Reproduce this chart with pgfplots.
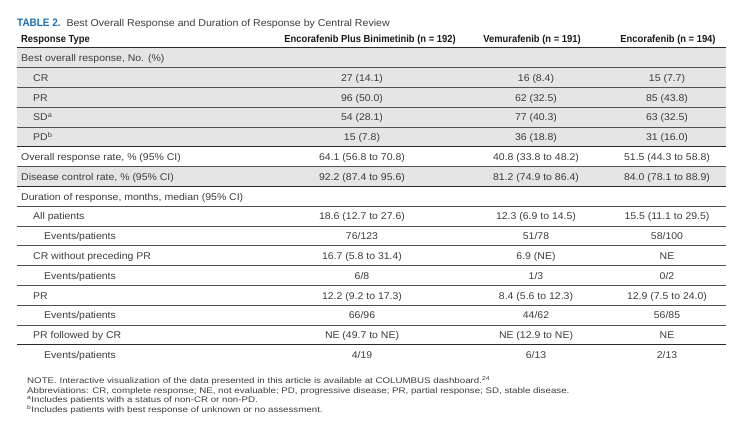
\documentclass[border=0pt]{standalone}
\usepackage{pgfplots}
\usepackage{pgfplotstable}
\pgfplotsset{compat=1.18}
\usepackage{fontspec}
\setmainfont{Liberation Sans}
\newfontfamily\hdfont{Liberation Sans}[FakeStretch=0.92]
\newfontfamily\bodyfont{Liberation Sans}[FakeStretch=1.07]
\newfontfamily\fnfont{Liberation Sans}[FakeStretch=1.2]
\definecolor{rowgray}{RGB}{229,229,229}
\definecolor{txt}{RGB}{60,60,60}
\definecolor{hdtxt}{RGB}{25,25,25}
\definecolor{tblue}{RGB}{30,110,178}
\definecolor{thinline}{RGB}{80,80,80}
\definecolor{thickline}{RGB}{40,40,40}

\pgfplotstableread[col sep=semicolon]{
yc;label;ind;c1;c2;c3
58.0;Best overall response, No. (\%);21;{};{};{}
77.8;CR;33;27 (14.1);16 (8.4);15 (7.7)
97.6;PR;33;96 (50.0);62 (32.5);85 (43.8)
117.4;SD\textsuperscript{a};33;54 (28.1);77 (40.3);63 (32.5)
137.2;PD\textsuperscript{b};33;15 (7.8);36 (18.8);31 (16.0)
157.0;Overall response rate, \% (95\% CI);21;64.1 (56.8 to 70.8);40.8 (33.8 to 48.2);51.5 (44.3 to 58.8)
176.8;Disease control rate, \% (95\% CI);21;92.2 (87.4 to 95.6);81.2 (74.9 to 86.4);84.0 (78.1 to 88.9)
196.6;Duration of response, months, median (95\% CI);21;{};{};{}
216.4;All patients;33;18.6 (12.7 to 27.6);12.3 (6.9 to 14.5);15.5 (11.1 to 29.5)
236.2;Events/patients;44;76/123;51/78;58/100
256.0;CR without preceding PR;33;16.7 (5.8 to 31.4);6.9 (NE);NE
275.8;Events/patients;44;6/8;1/3;0/2
295.6;PR;33;12.2 (9.2 to 17.3);8.4 (5.6 to 12.3);12.9 (7.5 to 24.0)
315.4;Events/patients;44;66/96;44/62;56/85
335.2;PR followed by CR;33;NE (49.7 to NE);NE (12.9 to NE);NE
355.0;Events/patients;44;4/19;6/13;2/13
}\restable

\begin{document}
\begin{tikzpicture}[
  cell/.style={inner sep=0pt, text height=7pt, text depth=0pt, font=\bodyfont\fontsize{9.8}{12}\selectfont, text=txt},
  hd/.style={inner sep=0pt, text height=7.4pt, text depth=0pt, font=\hdfont\bfseries\fontsize{10.2}{12}\selectfont, text=hdtxt},
  fn/.style={anchor=west, inner sep=0pt, text height=5.8pt, text depth=0pt, font=\fnfont\fontsize{8.1}{9}\selectfont, text=txt},
]
\begin{axis}[
  width=743pt, height=447pt, scale only axis,
  xmin=0, xmax=743, ymin=0, ymax=447, y dir=reverse,
  axis lines=none, xtick=\empty, ytick=\empty, clip=false,
  every axis plot/.append style={draw=none, mark=none},
]
\path (axis cs:0,0) rectangle (axis cs:743,447);
% row shading
\fill[rowgray] (axis cs:17,47.7) rectangle (axis cs:726,146.7);
\fill[rowgray] (axis cs:17,166.5) rectangle (axis cs:726,186.3);
% thin rules
\pgfplotsinvokeforeach{67.5,87.3,107.1,126.9,166.5,206.1,225.9,245.7,265.5,285.3,305.1,324.9}{
  \draw[thinline, line width=0.8pt] (axis cs:17,#1) -- (axis cs:726,#1);
}
% thick rules
\pgfplotsinvokeforeach{47.7,146.7,186.3,344.7}{
  \draw[thickline, line width=1.5pt] (axis cs:17,#1) -- (axis cs:726,#1);
}
% title and header
\node[anchor=west, inner sep=0pt, text height=7.2pt, text depth=0pt, font=\bodyfont\fontsize{9.9}{12}\selectfont] at (axis cs:17,22.7)
  {{\hdfont\bfseries\fontsize{10.8}{12}\selectfont\color{tblue}TABLE 2.}\ \ \textcolor{txt}{Best Overall Response and Duration of Response by Central Review}};
\node[hd, anchor=west] at (axis cs:21,38.3) {Response Type};
\node[hd, anchor=center] at (axis cs:370,38.3) {Encorafenib Plus Binimetinib (n = 192)};
\node[hd, anchor=center] at (axis cs:532,38.3) {Vemurafenib (n = 191)};
\node[hd, anchor=center] at (axis cs:668,38.3) {Encorafenib (n = 194)};
% row labels
\addplot[nodes near coords, point meta=explicit symbolic,
  every node near coord/.style={cell, anchor=west}]
  table[x=ind, y=yc, meta=label] {\restable};
% data columns
\addplot[nodes near coords, point meta=explicit symbolic,
  every node near coord/.style={cell, anchor=center}]
  table[x expr=362, y=yc, meta=c1] {\restable};
\addplot[nodes near coords, point meta=explicit symbolic,
  every node near coord/.style={cell, anchor=center}]
  table[x expr=536, y=yc, meta=c2] {\restable};
\addplot[nodes near coords, point meta=explicit symbolic,
  every node near coord/.style={cell, anchor=center}]
  table[x expr=667, y=yc, meta=c3] {\restable};
% footnotes
\node[fn] at (axis cs:27,380.7)
  {NOTE. Interactive visualization of the data presented in this article is available at COLUMBUS dashboard.\textsuperscript{24}};
\node[fn] at (axis cs:27,390.2)
  {Abbreviations: CR, complete response; NE, not evaluable; PD, progressive disease; PR, partial response; SD, stable disease.};
\node[fn] at (axis cs:27,399.8)
  {\textsuperscript{a}Includes patients with a status of non-CR or non-PD.};
\node[fn] at (axis cs:27,409.3)
  {\textsuperscript{b}Includes patients with best response of unknown or no assessment.};
\end{axis}
\end{tikzpicture}
\end{document}
